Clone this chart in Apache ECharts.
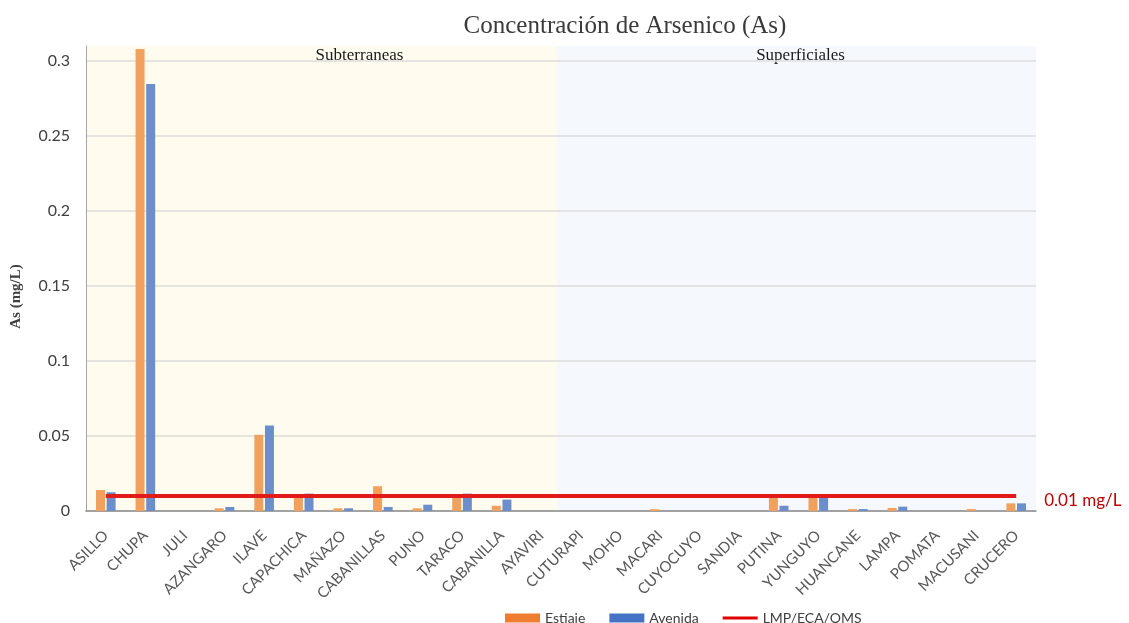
<!DOCTYPE html>
<html>
<head>
<meta charset="utf-8">
<script src="https://cdn.jsdelivr.net/npm/echarts@6/dist/echarts.min.js"></script>
<style>
  html, body { margin: 0; padding: 0; background: #fff; }
</style>
</head>
<body>
<div id="arsenico" style="width: 1129px; height: 623px;"></div>
<script>
// estaciones
const categories = ['ASILLO', 'CHUPA', 'JULI', 'AZANGARO', 'ILAVE', 'CAPACHICA', 'MAÑAZO', 'CABANILLAS',
  'PUNO', 'TARACO', 'CABANILLA', 'AYAVIRI', 'CUTURAPI', 'MOHO', 'MACARI', 'CUYOCUYO', 'SANDIA',
  'PUTINA', 'YUNGUYO', 'HUANCANE', 'LAMPA', 'POMATA', 'MACUSANI', 'CRUCERO'];

const estiaje = [0.014, 0.308, 0, 0.0018, 0.0508, 0.0095, 0.0018, 0.0165, 0.0018, 0.0095, 0.0035, 0,
  0, 0, 0.0012, 0, 0, 0.0088, 0.0095, 0.0013, 0.002, 0, 0.0013, 0.0051];

const avenida = [0.0125, 0.2846, 0, 0.0027, 0.057, 0.0116, 0.0018, 0.0027, 0.0042, 0.0116, 0.0076, 0,
  0, 0, 0, 0, 0, 0.0035, 0.009, 0.0013, 0.0029, 0, 0, 0.0051];

// limite LMP/ECA/OMS
const lmp = [0.01, 0.01, 0.01, 0.01, 0.01, 0.01, 0.01, 0.01, 0.01, 0.01, 0.01, 0.01,
  0.01, 0.01, 0.01, 0.01, 0.01, 0.01, 0.01, 0.01, 0.01, 0.01, 0.01, 0.01];

// grupos (en posiciones de categoria)
const groups = [
  { name: 'Subterraneas', from: 0, to: 11.9, color: '#FFFCEF' },
  { name: 'Superficiales', from: 11.9, to: 24, color: '#F5F9FD' }
];

const yTicks = [0, 0.05, 0.1, 0.15, 0.2, 0.25, 0.3];

const chart = echarts.init(document.getElementById('arsenico'));

const sans = 'Lato, "Liberation Sans", sans-serif';
const serif = '"Liberation Serif", "DejaVu Serif", serif';

let option = {
  animation: false,
  title: {
    text: 'Concentración de Arsenico (As)',
    left: 620,
    textAlign: 'center',
    top: 9,
    textStyle: { fontFamily: serif, fontSize: 25, fontWeight: 'normal', color: '#3a3a3a' }
  },
  legend: {
    top: 606,
    left: 500,
    itemWidth: 35,
    itemHeight: 9,
    itemGap: 24,
    textStyle: { fontFamily: sans, fontSize: 14, color: '#404040' },
    data: [
      { name: 'Estiaje', icon: 'rect', itemStyle: { color: '#ED7D31' } },
      { name: 'Avenida', icon: 'rect', itemStyle: { color: '#4472C4' } },
      { name: 'LMP/ECA/OMS', icon: 'path://M0,0L35,0L35,3L0,3Z', itemStyle: { color: '#E00000' } }
    ]
  },
  grid: {
    left: 86,
    right: 93,
    top: 46,
    bottom: 112
  },
  xAxis: [
    {
      type: 'category',
      data: categories,
      axisTick: { show: false },
      axisLine: { lineStyle: { color: '#8c8c8c', width: 1.5 } },
      axisLabel: {
        interval: 0,
        rotate: 45,
        margin: 22,
        fontFamily: sans,
        fontSize: 15,
        color: '#595959'
      }
    },
    {
      type: 'value',
      min: 0,
      max: 24,
      show: false
    }
  ],
  yAxis: {
    type: 'value',
    min: 0,
    max: 0.31,
    interval: 0.05,
    name: 'As (mg/L)',
    nameLocation: 'middle',
    nameGap: 62,
    nameTextStyle: { fontFamily: serif, fontSize: 15, fontWeight: 'bold', color: '#404040', padding: [0, 0, 0, -36] },
    axisLine: { show: true, lineStyle: { color: '#a6a6a6' } },
    axisTick: { show: false },
    axisLabel: {
      showMaxLabel: false,
      margin: 16,
      fontFamily: sans,
      fontSize: 16,
      color: '#404040',
      formatter: function (v) {
        return yTicks.indexOf(Math.round(v * 100) / 100) >= 0 ? String(Math.round(v * 100) / 100) : '';
      }
    },
    splitLine: { showMaxLine: false, lineStyle: { color: '#dcdcdc', width: 1.5 } }
  },
  series: [
    {
      name: 'fondo',
      type: 'line',
      xAxisIndex: 1,
      data: [],
      z: -1,
      silent: true,
      markArea: {
        silent: true,
        z: -1,
        data: groups.map(function (g, i) {
          return [
            {
              name: g.name,
              xAxis: g.from,
              itemStyle: { color: g.color },
              label: {
                show: true,
                position: 'insideTop',
                distance: 1,
                offset: i === 0 ? [38, 0] : [4, 0],
                fontFamily: serif,
                fontSize: 17,
                color: '#1a1a1a'
              }
            },
            { xAxis: g.to }
          ];
        })
      }
    },
    {
      name: 'Estiaje',
      type: 'bar',
      data: estiaje,
      barWidth: 9,
      barGap: '18%',
      itemStyle: { color: '#F0A15D' }
    },
    {
      name: 'Avenida',
      type: 'bar',
      data: avenida,
      barWidth: 9,
      itemStyle: { color: '#6C8FCB' }
    },
    {
      name: 'LMP/ECA/OMS',
      type: 'line',
      data: lmp,
      symbol: 'none',
      z: 5,
      lineStyle: { color: '#E21A1A', width: 4 },
      itemStyle: { color: '#E21A1A' },
      endLabel: {
        show: true,
        distance: 28,
        offset: [0, 5],
        formatter: '0.01 mg/L',
        fontFamily: sans,
        fontSize: 17,
        color: '#C00000'
      }
    }
  ]
};

chart.setOption(option);
</script>
</body>
</html>
